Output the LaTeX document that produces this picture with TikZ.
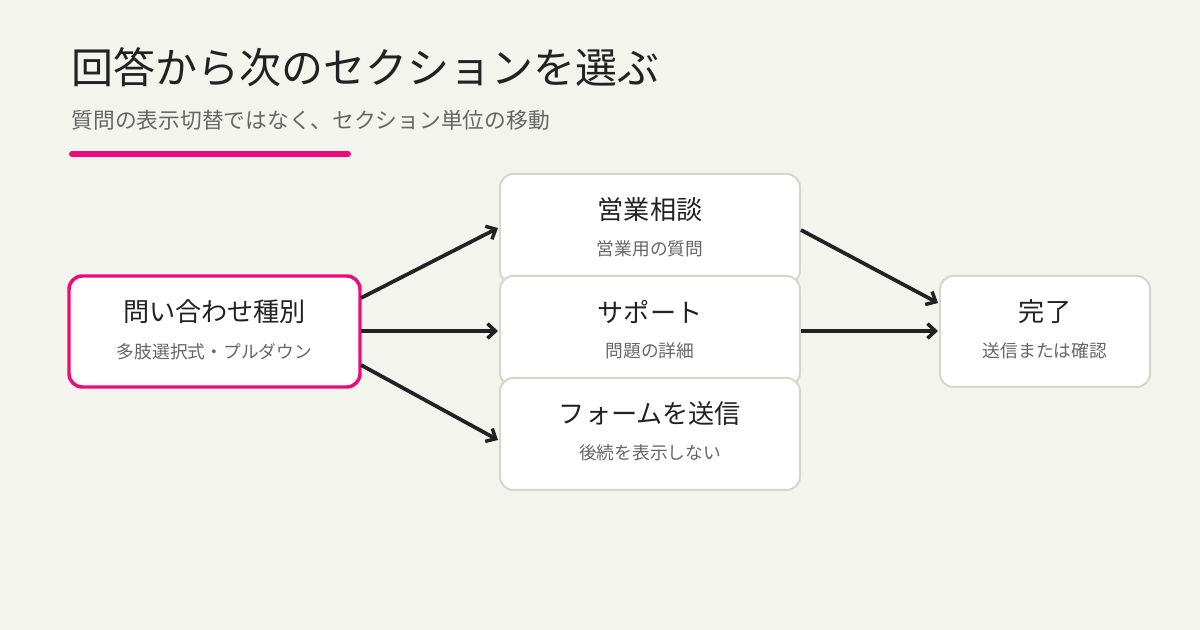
\documentclass[tikz,border=0pt]{standalone}
\usepackage{fontspec}
\setmainfont{Noto Sans CJK JP}
\usetikzlibrary{arrows.meta,calc}
\definecolor{bg}{HTML}{F4F4EF}
\definecolor{pink}{HTML}{EE0A78}
\definecolor{bord}{HTML}{D6D6CF}
\definecolor{ink}{HTML}{222222}
\definecolor{sub}{HTML}{666666}
\begin{document}
\begin{tikzpicture}[x=0.75pt,y=-0.75pt,
  box/.style={draw=bord,line width=1.5pt,fill=white,rounded corners=10pt},
  ttl/.style={font=\fontsize{19.6}{22}\selectfont,text=ink},
  st/.style={font=\fontsize{13.3}{15}\selectfont,text=sub},
  arr/.style={draw=ink,line width=2.8pt,-{Straight Barb[length=6pt,width=11pt,line width=2.6pt]}}]
\path[fill=bg] (0,0) rectangle (1200,630);
\useasboundingbox (0,0) rectangle (1200,630);
\node[anchor=west,font=\fontsize{31.5}{34}\selectfont,text=ink] (title) at (67,67) {回答から次のセクションを選ぶ};
\node[anchor=west,font=\fontsize{16.3}{18}\selectfont,text=sub] (subt) at (67,120) {質問の表示切替ではなく、セクション単位の移動};
\draw[pink,line width=4.5pt,line cap=round] (72,154) -- (348,154);
\draw[box,draw=pink,line width=2.6pt] (69,276) rectangle (360,387);
\node[ttl] (a) at (214.5,312) {問い合わせ種別};
\node[st] (as) at (214.5,352) {多肢選択式・プルダウン};
\draw[box] (500,174) rectangle (800,284);
\node[ttl] (b) at (650,210) {営業相談};
\node[st] (bs) at (650,249) {営業用の質問};
\draw[box] (500,276) rectangle (800,386);
\node[ttl] (c) at (650,312) {サポート};
\node[st] (cs) at (650,351) {問題の詳細};
\draw[box] (500,378) rectangle (800,490);
\node[ttl] (d) at (650,414) {フォームを送信};
\node[st] (ds) at (650,453) {後続を表示しない};
\draw[box] (940,276) rectangle (1150,387);
\node[ttl] (e) at (1045,312) {完了};
\node[st] (es) at (1045,351) {送信または確認};
\coordinate (a1) at (361,298); \coordinate (a2) at (361,331); \coordinate (a3) at (361,365);
\coordinate (b1) at (498,228); \coordinate (c1) at (498,331); \coordinate (d1) at (498,440);
\coordinate (b2) at (801,230); \coordinate (c2) at (801,331);
\coordinate (e1) at (938,303); \coordinate (e2) at (938,331);
\draw[arr] (a1) -- (b1);
\draw[arr] (a2) -- (c1);
\draw[arr] (a3) -- (d1);
\draw[arr] (b2) -- (e1);
\draw[arr] (c2) -- (e2);
\end{tikzpicture}
\end{document}
